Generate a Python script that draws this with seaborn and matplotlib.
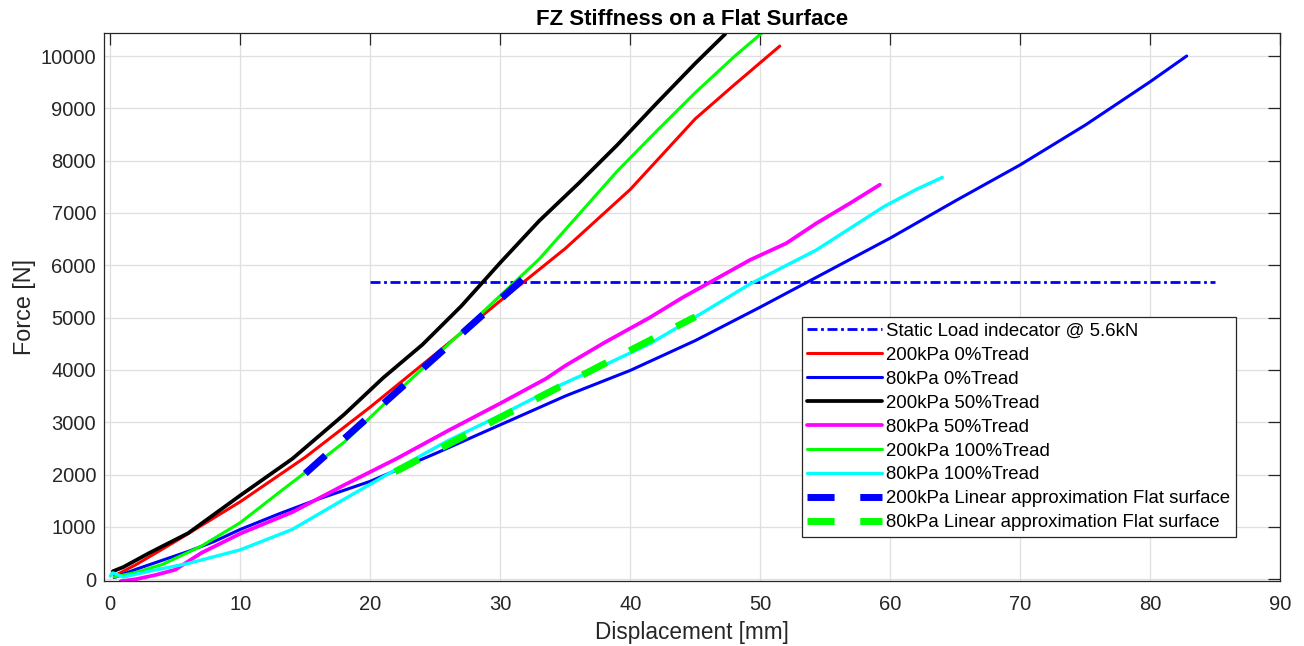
import matplotlib
matplotlib.use("Agg")
import matplotlib.pyplot as plt
import seaborn as sns
import numpy as np

# ---------------- data ----------------
static_x = [20, 85]
static_y = [5680, 5680]

red_x = [0.3, 2, 5, 10, 15, 20, 25, 30, 35, 40, 45, 48, 51.5]
red_y = [60, 280, 720, 1480, 2330, 3290, 4300, 5320, 6320, 7450, 8800, 9450, 10190]

blue_x = [0.3, 2, 4, 6, 8, 10, 13, 16, 20, 25, 30, 35, 40, 45, 50, 55, 60, 65, 70, 75, 80, 82.8]
blue_y = [30, 190, 360, 530, 720, 950, 1250, 1530, 1870, 2400, 2950, 3500, 3990, 4560, 5200,
          5860, 6520, 7230, 7920, 8680, 9510, 10000]

black_x = [0.2, 1, 3, 6, 10, 14, 18, 21, 24, 27, 30, 33, 36, 39, 42, 45, 47.3]
black_y = [150, 230, 500, 880, 1600, 2300, 3150, 3850, 4480, 5220, 6050, 6850, 7560, 8300,
           9090, 9860, 10420]

magenta_x = [0.8, 2, 3.5, 5, 7, 10, 14, 18, 22, 26, 30, 33.5, 35, 38, 41.5, 44, 46.6, 49.2,
             52, 54.3, 57, 59.2]
magenta_y = [-40, 0, 80, 180, 500, 870, 1280, 1800, 2300, 2840, 3360, 3830, 4080, 4520, 5000,
             5380, 5740, 6100, 6420, 6800, 7200, 7540]

green_x = [0.3, 2, 4, 7, 10, 13, 15, 18, 21, 24, 27, 30, 33, 36, 39, 42, 45, 48, 50.1]
green_y = [40, 130, 280, 630, 1080, 1660, 2040, 2620, 3330, 4020, 4720, 5420, 6120, 6960,
           7800, 8560, 9300, 9990, 10435]

cyan_x = [0, 0.2, 1, 3, 6, 10, 14, 18, 22, 26, 30, 34, 38, 41.5, 45, 49.2, 54.3, 59.5, 62, 64]
cyan_y = [60, 120, 40, 150, 300, 560, 950, 1530, 2100, 2650, 3130, 3640, 4090, 4500, 5010,
          5640, 6290, 7120, 7450, 7680]

lin200_x = [15.0, 31.8]
lin200_y = [2020, 5750]

lin80_x = [21.9, 45.0]
lin80_y = [2052, 5015]

x_ticks = list(range(0, 91, 10))
y_ticks = list(range(0, 10001, 1000))

labels = ["Static Load indecator @ 5.6kN", "200kPa 0%Tread", "80kPa 0%Tread",
          "200kPa 50%Tread", "80kPa 50%Tread", "200kPa 100%Tread", "80kPa 100%Tread",
          "200kPa Linear approximation Flat surface", "80kPa Linear approximation Flat surface"]

# ---------------- style ----------------
sns.set_style("white")
plt.rcParams['font.family'] = ['Liberation Sans', 'DejaVu Sans']
dark = "#262626"

fig = plt.figure(figsize=(13.04, 6.46), dpi=100)
ax = fig.add_axes([0.0801, 0.1011, 0.9017, 0.8474])

series = [
    (static_x, static_y, "#0000ff", 2.0, (3.6, 1.3, 1.0, 1.3)),
    (red_x, red_y, "#ff0000", 2.2, None),
    (blue_x, blue_y, "#0000ff", 2.2, None),
    (black_x, black_y, "#000000", 2.7, None),
    (magenta_x, magenta_y, "#ff00ff", 2.7, None),
    (green_x, green_y, "#00ff00", 2.2, None),
    (cyan_x, cyan_y, "#00ffff", 2.4, None),
    (lin200_x, lin200_y, "#0000ff", 5.0, (3.9, 3.7)),
    (lin80_x, lin80_y, "#00ff00", 5.0, (3.9, 3.7)),
]

handles = []
for (xs, ys, col, lw, dsh), lab in zip(series, labels):
    n_before = len(ax.lines)
    sns.lineplot(x=xs, y=ys, ax=ax, color=col, linewidth=lw, estimator=None,
                 sort=False, legend=False)
    line = ax.lines[n_before]
    if dsh is not None:
        line.set_dashes(dsh)
    line.set_dash_capstyle("butt")
    line.set_solid_capstyle("round")
    line.set_label(lab)
    handles.append(line)

ax.set_xlim(-0.45, 90)
ax.set_ylim(-30, 10435)
ax.set_xticks(x_ticks)
ax.set_yticks(y_ticks)
ax.grid(True, color="#dfdfdf", linewidth=0.9)
ax.set_axisbelow(True)

for sp in ax.spines.values():
    sp.set_color(dark)
    sp.set_linewidth(0.9)
    sp.set_visible(True)

ax.tick_params(axis="both", direction="in", length=8.5, width=0.9, color=dark,
               labelcolor=dark, labelsize=14.5, top=True, right=True)
ax.tick_params(axis="x", pad=10)
ax.tick_params(axis="y", pad=6)

ax.set_xlabel("Displacement [mm]", fontsize=16.3, color=dark, labelpad=5)
ax.set_ylabel("Force [N]", fontsize=16.8, color=dark, labelpad=3)
ax.set_title("FZ Stiffness on a Flat Surface", fontsize=16, fontweight="bold",
             color="#000000", pad=6)

leg = ax.legend(handles=handles, loc="lower right", bbox_to_anchor=(0.962, 0.080),
                borderaxespad=0, fontsize=13.4, frameon=True, fancybox=False,
                handlelength=4.0, handletextpad=0.22, labelspacing=0.37,
                borderpad=0.3, edgecolor=dark, framealpha=1)
leg.get_frame().set_linewidth(0.9)
for t in leg.get_texts():
    t.set_color("#000000")

fig.savefig("out.png", dpi=100)
